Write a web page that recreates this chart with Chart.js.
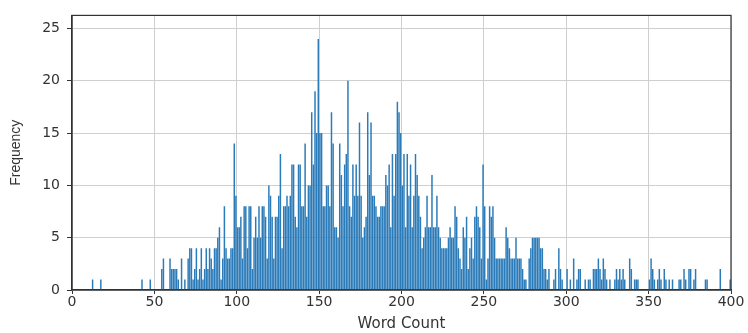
<!DOCTYPE html>
<html>
<head>
<meta charset="utf-8">
<script src="https://cdn.jsdelivr.net/npm/chart.js@4.4.1/dist/chart.umd.min.js"></script>
<style>
  html, body { margin: 0; padding: 0; background: #fff; }
  #wrap { width: 748px; height: 333px; }
</style>
</head>
<body>
<div id="wrap"><canvas id="hist"></canvas></div>
<script>
// histogram of word counts, one bin per word (0..399)
const binStarts = Array.from({ length: 400 }, (_, i) => i);
const frequency = [
  0,0,0,0,0,0,0,0,0,0,  0,0,1,0,0,0,0,1,0,0,
  0,0,0,0,0,0,0,0,0,0,  0,0,0,0,0,0,0,0,0,0,
  0,0,1,0,0,0,0,1,0,0,  0,0,0,0,2,3,0,0,0,3,
  2,2,2,2,1,0,3,0,1,0,  3,4,4,1,2,4,1,2,4,1,
  2,4,2,4,3,2,4,4,5,6,  1,3,8,4,3,3,4,4,14,9,
  6,6,7,3,8,8,4,8,8,2,  5,7,5,8,5,8,8,7,3,10,
  9,7,3,7,7,9,13,4,8,8,  9,8,9,12,12,7,6,12,12,8,
  8,14,7,10,10,17,12,19,15,24,  15,15,8,8,10,10,8,17,14,6,
  6,5,14,11,8,12,13,20,8,7,  12,9,12,9,16,9,5,6,7,17,
  11,16,9,9,8,7,7,8,8,8,  11,10,12,6,13,9,13,18,17,15,
  10,13,6,13,9,12,6,9,13,11,  9,7,4,5,6,9,6,6,11,6,
  6,9,6,5,4,4,4,4,5,6,  5,5,8,7,4,3,2,6,5,7,
  2,4,5,3,7,8,7,6,3,12,  8,1,3,8,7,8,5,3,3,3,
  3,3,3,6,5,4,3,3,3,5,  3,3,3,2,1,1,0,3,4,5,
  5,5,5,5,4,4,2,2,1,2,  0,0,1,2,0,4,2,1,0,0,
  2,0,1,0,3,0,1,2,2,0,  0,1,0,1,1,0,2,2,2,3,
  2,1,3,2,1,0,1,0,0,1,  2,1,2,1,2,1,0,0,3,2,
  0,1,1,1,0,0,0,0,0,0,  1,3,2,1,0,1,2,1,0,2,
  1,0,1,0,1,0,0,0,1,1,  0,2,1,0,2,2,0,1,2,0,
  0,0,0,0,1,1,0,0,0,0,  0,0,0,2,0,0,0,0,0,1
];
const xTicks = [0, 50, 100, 150, 200, 250, 300, 350, 400];
const yTicks = [0, 5, 10, 15, 20, 25];

Chart.defaults.font.family = "'DejaVu Sans', sans-serif";
Chart.defaults.color = '#333';

// matplotlib-style box around the plot area
const frame = {
  id: 'frame',
  afterDraw(chart) {
    const { ctx, chartArea: a } = chart;
    ctx.save();
    ctx.strokeStyle = '#333';
    ctx.lineWidth = 1.2;
    ctx.strokeRect(a.left, a.top, a.right - a.left, a.bottom - a.top);
    ctx.restore();
  }
};

new Chart(document.getElementById('hist'), {
  type: 'bar',
  data: {
    datasets: [{
      data: binStarts.map((b, i) => ({ x: b + 0.5, y: frequency[i] })),
      backgroundColor: '#2b7bb9',
      barPercentage: 0.9,
      categoryPercentage: 1
    }]
  },
  options: {
    responsive: true,
    maintainAspectRatio: false,
    animation: false,
    layout: { padding: { top: 8, right: 17, left: 0, bottom: 0 } },
    plugins: { legend: { display: false }, tooltip: { enabled: false } },
    scales: {
      x: {
        type: 'linear',
        min: 0, max: 400,
        offset: false,
        afterBuildTicks: s => { s.ticks = xTicks.map(v => ({ value: v })); },
        afterFit: s => { s.height = 43; },
        grid: { color: '#cfcfcf', tickColor: '#333', tickLength: 4, offset: false },
        border: { color: '#333', width: 1.2 },
        ticks: { font: { size: 14 }, padding: 0, maxRotation: 0 },
        title: { display: true, text: 'Word Count', font: { size: 15 }, padding: { top: 0, bottom: 0 } }
      },
      y: {
        min: 0, max: 26.25,
        afterBuildTicks: s => { s.ticks = yTicks.map(v => ({ value: v })); },
        afterFit: s => { s.width = 72; },
        grid: { color: '#cfcfcf', tickColor: '#333', tickLength: 5 },
        border: { color: '#333', width: 1.2 },
        ticks: { font: { size: 14 }, padding: 7 },
        title: { display: true, text: 'Frequency', font: { family: "'Liberation Sans Narrow', 'Liberation Sans', sans-serif", size: 14 }, padding: { top: 8, bottom: 0 } }
      }
    }
  },
  plugins: [frame]
});
</script>
</body>
</html>
